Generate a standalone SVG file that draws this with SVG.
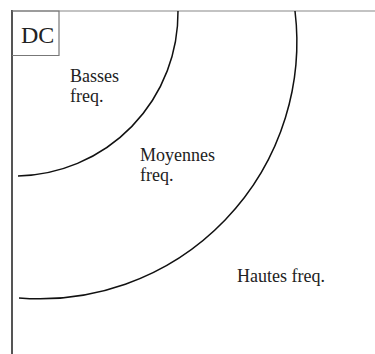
<svg xmlns="http://www.w3.org/2000/svg" width="375" height="354" viewBox="0 0 375 354">
  <style>
    .frame { stroke: #888; stroke-width: 1.2; fill: none; }
    .frameL { stroke: #555; stroke-width: 2; fill: none; }
    .arc { stroke: #111; stroke-width: 1.5; fill: none; }
    .lbl { font-family: "Liberation Serif", "Times New Roman", serif; font-size: 18px; fill: #222; }
  </style>
  <rect width="375" height="354" fill="#fff"/>
  <g id="frame">
    <line class="frame" x1="12" y1="11" x2="375" y2="11"/>
    <line class="frameL" x1="12" y1="10" x2="12" y2="354"/>
  </g>
  <g id="connectors">
    <path id="arc-inner" class="arc" d="M178,11 A163.5,163.5 0 0 1 18,176"/>
    <path id="arc-outer" class="arc" d="M295,11 A257,257 0 0 1 19,298"/>
  </g>
  <g id="dc">
    <path d="M12,11 H59 V55.5 H12" stroke="#777" stroke-width="1.2" fill="none"/>
    <text class="lbl" x="21" y="42.5" style="font-size:24px">DC</text>
  </g>
  <g id="basses">
    <text class="lbl" x="70" y="82">Basses</text>
    <text class="lbl" x="70" y="102">freq.</text>
  </g>
  <g id="moyennes">
    <text class="lbl" x="140" y="161">Moyennes</text>
    <text class="lbl" x="140" y="181">freq.</text>
  </g>
  <g id="hautes">
    <text class="lbl" x="237" y="282">Hautes freq.</text>
  </g>
</svg>
